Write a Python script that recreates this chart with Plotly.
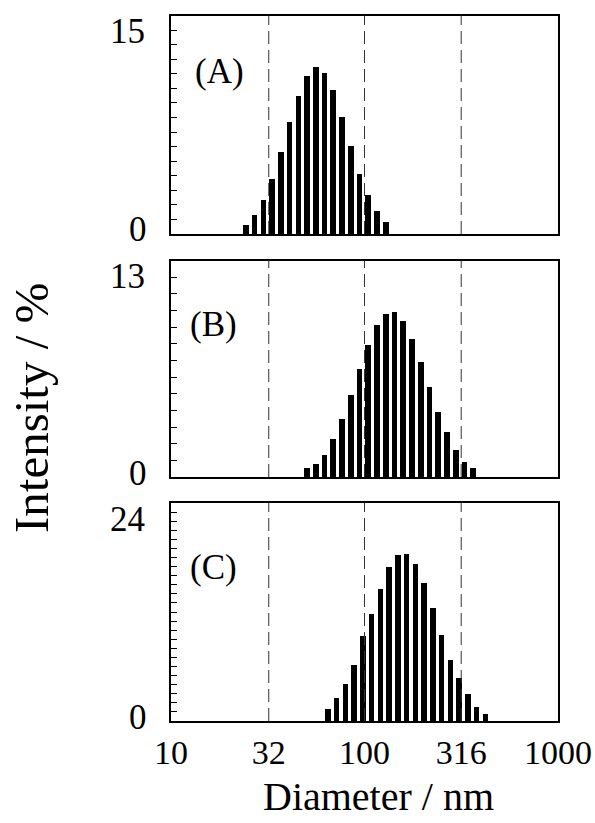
import numpy as np
import plotly.graph_objects as go

# ---------------- data ----------------
diam_A = [24.4, 27.0, 30.0, 33.3, 36.9, 41.0, 45.5, 50.5, 56.0, 62.1, 68.9,
          76.5, 84.9, 94.2, 104.5, 116.0, 128.7]
int_A = [0.66, 1.35, 2.38, 3.84, 5.63, 7.69, 9.54, 10.87, 11.49, 11.10, 9.95,
         8.10, 6.11, 4.16, 2.72, 1.60, 0.85]

diam_B = [50.5, 56.0, 62.1, 68.9, 76.5, 84.9, 94.2, 104.5, 116.0, 128.7, 142.8,
          158.5, 175.9, 195.2, 216.6, 240.3, 266.7, 296.0, 328.4, 364.5]
int_B = [0.58, 0.82, 1.36, 2.32, 3.50, 4.96, 6.54, 7.94, 9.14, 9.84, 9.92,
         9.38, 8.32, 6.96, 5.42, 3.96, 2.72, 1.66, 0.94, 0.58]

diam_C = [64.7, 71.8, 79.7, 88.4, 98.1, 108.9, 120.8, 134.1, 148.8, 165.1,
          183.2, 203.3, 225.6, 250.4, 277.8, 308.3, 342.1, 379.6, 421.3]
int_C = [1.32, 2.54, 4.04, 6.18, 9.34, 11.73, 14.56, 16.91, 18.27, 18.38,
         17.28, 15.18, 12.39, 9.49, 6.69, 4.74, 2.98, 1.58, 0.77]

panel_labels = ["(A)", "(B)", "(C)"]
y_max = [15, 13, 24]
x_tick_values = [10, 32, 100, 316, 1000]
x_tick_text = ["10", "32", "100", "316", "1000"]
guide_diameters = [32, 100, 316]
x_title = "Diameter / nm"
y_title = "Intensity / %"

# ---------------- style ----------------
W, H = 595, 823
FONT = "Liberation Serif"
BAR_W = 0.029  # in decades
x_dom = [171 / W, 558 / W]
panel_px = [(15.5, 234.0), (260.5, 477.0), (503.0, 721.0)]  # (top, bottom) in px
y_doms = [[1 - b / H, 1 - t / H] for (t, b) in panel_px]

series = [(diam_A, int_A), (diam_B, int_B), (diam_C, int_C)]

fig = go.Figure()
layout = dict(
    width=W, height=H, margin=dict(l=0, r=0, t=0, b=0, pad=0, autoexpand=False),
    autosize=False,
    paper_bgcolor="white", plot_bgcolor="white", showlegend=False,
    font=dict(family=FONT, color="black"), bargap=0,
)
shapes = []
annotations = []

for i, (d, v) in enumerate(series):
    n = "" if i == 0 else str(i + 1)
    fig.add_trace(go.Bar(
        x=np.log10(d), y=v, width=BAR_W, marker=dict(color="black", line=dict(width=0)),
        xaxis="x" + n, yaxis="y" + n, hoverinfo="skip",
    ))
    is_bottom = (i == 2)
    layout["xaxis" + n] = dict(
        domain=x_dom, anchor="y" + n, range=[1, 3], automargin=False,
        tickvals=np.log10(x_tick_values), ticktext=x_tick_text,
        showticklabels=is_bottom, ticks="", showline=True, mirror=True,
        linecolor="black", linewidth=1.5, showgrid=False, zeroline=False,
        tickfont=dict(size=34, family=FONT), ticklabelstandoff=0,
    )
    layout["yaxis" + n] = dict(
        domain=y_doms[i], anchor="x" + n, range=[0, y_max[i]], automargin=False,
        dtick=1, tick0=0, ticks="inside", ticklen=6, tickwidth=1, tickcolor="black",
        showticklabels=False, showline=True, mirror=True, linecolor="black",
        linewidth=1.5, showgrid=False, zeroline=False,
    )
    for g in guide_diameters:
        shapes.append(dict(
            type="line", xref="x" + n, yref="y" + n + " domain",
            x0=np.log10(g), x1=np.log10(g), y0=0, y1=1,
            line=dict(color="#333333", width=1, dash="13px,6px"),
        ))
    top_px, bot_px = panel_px[i]
    annotations.append(dict(
        xref="paper", yref="paper", x=147 / W, y=1 - (top_px + 16) / H,
        xanchor="right", yanchor="middle", showarrow=False,
        text=str(y_max[i]), font=dict(size=35, family=FONT),
    ))
    annotations.append(dict(
        xref="paper", yref="paper", x=149 / W, y=1 - (bot_px - 4) / H,
        xanchor="right", yanchor="middle", showarrow=False,
        text="0", font=dict(size=35, family=FONT),
    ))
    annotations.append(dict(
        xref="paper", yref="paper", x=(188 if i else 193) / W,
        y=1 - (top_px + (56 if i == 0 else 64)) / H,
        xanchor="left", yanchor="middle", showarrow=False,
        text=panel_labels[i], font=dict(size=35, family=FONT),
    ))

annotations.append(dict(
    xref="paper", yref="paper", x=378 / W, y=1 - 821 / H,
    xanchor="center", yanchor="bottom", showarrow=False,
    text=x_title, font=dict(size=40, family=FONT),
))
annotations.append(dict(
    xref="paper", yref="paper", x=31 / W, y=1 - 408 / H,
    xanchor="center", yanchor="middle", showarrow=False, textangle=-90,
    text=y_title, font=dict(size=49, family=FONT),
))

layout["shapes"] = shapes
layout["annotations"] = annotations
fig.update_layout(**layout)
fig.write_html("out.html")
